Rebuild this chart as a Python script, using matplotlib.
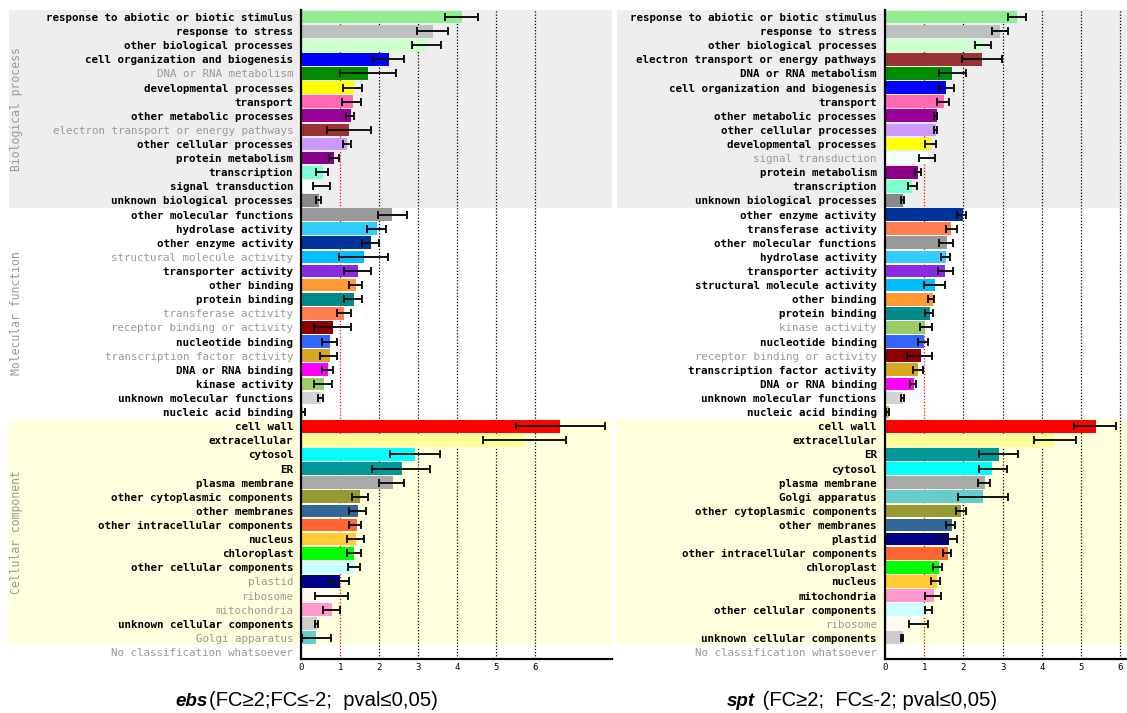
import numpy as np
import matplotlib
matplotlib.use("Agg")
import matplotlib.pyplot as plt
from matplotlib.patches import Rectangle
from matplotlib.transforms import blended_transform_factory

# GO slim enrichment (ebs and spt), rows grouped BP / MF / CC
ebs_labels = [
    "response to abiotic or biotic stimulus", "response to stress", "other biological processes",
    "cell organization and biogenesis", "DNA or RNA metabolism", "developmental processes",
    "transport", "other metabolic processes", "electron transport or energy pathways",
    "other cellular processes", "protein metabolism", "transcription", "signal transduction",
    "unknown biological processes",
    "other molecular functions", "hydrolase activity", "other enzyme activity",
    "structural molecule activity", "transporter activity", "other binding", "protein binding",
    "transferase activity", "receptor binding or activity", "nucleotide binding",
    "transcription factor activity", "DNA or RNA binding", "kinase activity",
    "unknown molecular functions", "nucleic acid binding",
    "cell wall", "extracellular", "cytosol", "ER", "plasma membrane",
    "other cytoplasmic components", "other membranes", "other intracellular components",
    "nucleus", "chloroplast", "other cellular components", "plastid", "ribosome",
    "mitochondria", "unknown cellular components", "Golgi apparatus",
    "No classification whatsoever",
]
ebs_values = [4.11, 3.37, 3.21, 2.24, 1.70, 1.34, 1.31, 1.27, 1.23, 1.17, 0.83, 0.54, 0.48, 0.46,
              2.32, 1.94, 1.77, 1.60, 1.46, 1.41, 1.34, 1.10, 0.80, 0.74, 0.73, 0.69, 0.57, 0.49, 0.04,
              6.64, 5.71, 2.91, 2.58, 2.34, 1.51, 1.44, 1.42, 1.41, 1.34, 1.34, 0.98, 0.90, 0.77,
              0.39, 0.37, 0.0]
ebs_lo = [3.67, 2.97, 2.84, 1.83, 0.99, 1.06, 1.03, 1.15, 0.65, 1.06, 0.71, 0.36, 0.29, 0.37,
          1.95, 1.69, 1.56, 0.95, 1.08, 1.23, 1.08, 0.90, 0.31, 0.53, 0.48, 0.53, 0.31, 0.42, 0.0,
          5.49, 4.66, 2.28, 1.82, 2.00, 1.29, 1.22, 1.22, 1.16, 1.16, 1.19, 0.70, 0.35, 0.54,
          0.34, 0.02, None]
ebs_hi = [4.52, 3.76, 3.57, 2.63, 2.42, 1.55, 1.53, 1.35, 1.79, 1.26, 0.95, 0.68, 0.73, 0.49,
          2.70, 2.17, 1.98, 2.23, 1.79, 1.54, 1.56, 1.26, 1.26, 0.91, 0.91, 0.82, 0.77, 0.55, 0.08,
          7.77, 6.78, 3.55, 3.29, 2.63, 1.70, 1.66, 1.52, 1.60, 1.52, 1.50, 1.22, 1.19, 0.99,
          0.43, 0.76, None]
ebs_grey = ["DNA or RNA metabolism", "electron transport or energy pathways",
            "structural molecule activity", "transferase activity", "receptor binding or activity",
            "transcription factor activity", "plastid", "ribosome", "mitochondria",
            "Golgi apparatus", "No classification whatsoever"]

spt_labels = [
    "response to abiotic or biotic stimulus", "response to stress", "other biological processes",
    "electron transport or energy pathways", "DNA or RNA metabolism",
    "cell organization and biogenesis", "transport", "other metabolic processes",
    "other cellular processes", "developmental processes", "signal transduction",
    "protein metabolism", "transcription", "unknown biological processes",
    "other enzyme activity", "transferase activity", "other molecular functions",
    "hydrolase activity", "transporter activity", "structural molecule activity",
    "other binding", "protein binding", "kinase activity", "nucleotide binding",
    "receptor binding or activity", "transcription factor activity", "DNA or RNA binding",
    "unknown molecular functions", "nucleic acid binding",
    "cell wall", "extracellular", "ER", "cytosol", "plasma membrane", "Golgi apparatus",
    "other cytoplasmic components", "other membranes", "plastid",
    "other intracellular components", "chloroplast", "nucleus", "mitochondria",
    "other cellular components", "ribosome", "unknown cellular components",
    "No classification whatsoever",
]
spt_values = [3.38, 2.94, 2.51, 2.48, 1.70, 1.56, 1.50, 1.32, 1.31, 1.17, 1.10, 0.83, 0.70, 0.47,
              1.99, 1.69, 1.57, 1.56, 1.53, 1.27, 1.22, 1.14, 1.03, 0.99, 0.91, 0.83, 0.74, 0.47, 0.09,
              5.38, 4.34, 2.91, 2.74, 2.55, 2.51, 1.94, 1.70, 1.64, 1.61, 1.38, 1.32, 1.25, 1.04,
              0.90, 0.46, 0.0]
spt_lo = [3.13, 2.73, 2.30, 1.97, 1.37, 1.37, 1.32, 1.24, 1.24, 1.01, 0.87, 0.76, 0.59, 0.42,
          1.83, 1.56, 1.39, 1.44, 1.36, 0.99, 1.10, 1.02, 0.89, 0.85, 0.55, 0.72, 0.63, 0.42, 0.03,
          4.82, 3.79, 2.40, 2.40, 2.36, 1.87, 1.80, 1.56, 1.40, 1.49, 1.22, 1.17, 1.02, 1.01,
          0.61, 0.40, None]
spt_hi = [3.60, 3.13, 2.70, 2.98, 2.06, 1.75, 1.63, 1.32, 1.32, 1.29, 1.27, 0.92, 0.82, 0.49,
          2.06, 1.83, 1.73, 1.66, 1.73, 1.52, 1.26, 1.22, 1.20, 1.09, 1.20, 0.96, 0.80, 0.49, 0.11,
          5.90, 4.87, 3.40, 3.10, 2.69, 3.13, 2.06, 1.78, 1.83, 1.69, 1.46, 1.40, 1.44, 1.20,
          1.09, 0.46, None]
spt_grey = ["signal transduction", "kinase activity", "receptor binding or activity",
            "ribosome", "No classification whatsoever"]

sections = ["Biological process", "Molecular function", "Cellular component"]
section_sizes = [14, 15, 16]
xticks = [0, 1, 2, 3, 4, 5, 6]

term_colors = {
    "response to abiotic or biotic stimulus": "#90ee90",
    "response to stress": "#c0c0c0",
    "other biological processes": "#ccffcc",
    "cell organization and biogenesis": "#0000ff",
    "DNA or RNA metabolism": "#008c00",
    "developmental processes": "#ffff00",
    "transport": "#ff69b4",
    "other metabolic processes": "#990099",
    "electron transport or energy pathways": "#993333",
    "other cellular processes": "#cc99ff",
    "protein metabolism": "#880088",
    "transcription": "#7fffd4",
    "signal transduction": "#f5fffa",
    "unknown biological processes": "#888888",
    "other molecular functions": "#999999",
    "hydrolase activity": "#33ccff",
    "other enzyme activity": "#003399",
    "structural molecule activity": "#00bfff",
    "transporter activity": "#8a2be2",
    "other binding": "#ff9933",
    "protein binding": "#008b8b",
    "transferase activity": "#ff7f50",
    "receptor binding or activity": "#8b0000",
    "nucleotide binding": "#3366ff",
    "transcription factor activity": "#daa520",
    "DNA or RNA binding": "#ff00ff",
    "kinase activity": "#99cc66",
    "unknown molecular functions": "#d3d3d3",
    "nucleic acid binding": "#bdb76b",
    "cell wall": "#ff0000",
    "extracellular": "#ffff99",
    "cytosol": "#00ffff",
    "ER": "#009999",
    "plasma membrane": "#aaaaaa",
    "other cytoplasmic components": "#999933",
    "other membranes": "#336699",
    "other intracellular components": "#ff6633",
    "nucleus": "#ffcc33",
    "chloroplast": "#00ff00",
    "other cellular components": "#ccffff",
    "plastid": "#000088",
    "ribosome": "#fffaf0",
    "mitochondria": "#ff99cc",
    "unknown cellular components": "#cccccc",
    "Golgi apparatus": "#66cccc",
    "No classification whatsoever": "#ffffff",
}
band_colors = ["#eeeeee", "#ffffff", "#ffffdd"]

W, H = 1127, 713
MONO = "DejaVu Sans Mono"
fig = plt.figure(figsize=(W / 100, H / 100), dpi=100)


def panel(rect, labels, values, lo, hi, grey, xmax, band_x, titles):
    ax = fig.add_axes(rect)
    ax.set_facecolor("none")
    n = len(labels)
    y = np.arange(n)

    # section background bands reach into the label column
    trans = blended_transform_factory(fig.transFigure, ax.transData)
    start = -0.5
    for name, size, col in zip(sections, section_sizes, band_colors):
        ax.add_patch(Rectangle((band_x[0] / W, start), (band_x[1] - band_x[0]) / W, size,
                               transform=trans, facecolor=col, edgecolor="none",
                               zorder=0, clip_on=False))
        if titles:
            ax.text(17 / W, start + size / 2, name, transform=trans, rotation=90,
                    ha="center", va="center", color="#999999", family=MONO, fontsize=8.3)
        start += size

    for x in xticks[2:]:
        ax.axvline(x, color="black", ls=(0, (1, 1.5)), lw=0.9, zorder=1)
    ax.axvline(1, color="red", ls=(0, (1, 1.5)), lw=0.9, zorder=1)

    ax.barh(y, values, height=0.9, color=[term_colors[t] for t in labels], zorder=2)

    idx = [i for i in range(n) if lo[i] is not None]
    lo_a = np.array([lo[i] for i in idx])
    hi_a = np.array([hi[i] for i in idx])
    ax.errorbar((lo_a + hi_a) / 2, y[idx], xerr=(hi_a - lo_a) / 2, fmt="none",
                ecolor="#111111", elinewidth=1.4, capsize=3, capthick=1.4, zorder=3)

    ax.set_xlim(0, xmax)
    ax.set_ylim(n - 0.5, -0.5)
    ax.set_yticks(y)
    ax.set_yticklabels(labels, family=MONO, fontsize=7.85, fontweight="bold")
    for lab in ax.get_yticklabels():
        if lab.get_text() in grey:
            lab.set_color("#999999")
            lab.set_fontweight("normal")
    ax.set_xticks(xticks)
    ax.set_xticklabels([str(t) for t in xticks], family=MONO, fontsize=6.5)
    ax.tick_params(axis="both", length=0)
    ax.tick_params(axis="y", pad=6)
    ax.tick_params(axis="x", pad=3)
    for s in ["top", "right"]:
        ax.spines[s].set_visible(False)
    for s in ["left", "bottom"]:
        ax.spines[s].set_linewidth(1.6)
        ax.spines[s].set_zorder(4)
    return ax


top, bottom = 10, 659
panel([301.5 / W, 1 - bottom / H, 310.5 / W, (bottom - top) / H],
      ebs_labels, ebs_values, ebs_lo, ebs_hi, ebs_grey, 310.5 / 39.0, (9, 612), True)
panel([885 / W, 1 - bottom / H, 242 / W, (bottom - top) / H],
      spt_labels, spt_values, spt_lo, spt_hi, spt_grey, 242 / 39.2, (617, W), False)

# captions: bold-italic genotype followed by the filter criteria, same baseline
CAP = ["Liberation Sans Narrow", "Liberation Sans", "DejaVu Sans"]
renderer = fig.canvas.get_renderer()
base_y = 1 - 706 / H
for x0, name, rest in [(175, "ebs", "(FC≥2;FC≤-2;  pval≤0,05)"),
                       (727, "spt", " (FC≥2;  FC≤-2; pval≤0,05)")]:
    t = fig.text(x0 / W, base_y, name, family=CAP, fontsize=13.5,
                 fontweight="bold", fontstyle="italic", va="baseline", ha="left")
    bb = t.get_window_extent(renderer)
    fig.text(bb.x1 / W + 2 / W, base_y, rest, family=CAP, fontsize=14.6,
             va="baseline", ha="left")

fig.savefig("out.png", dpi=100)
